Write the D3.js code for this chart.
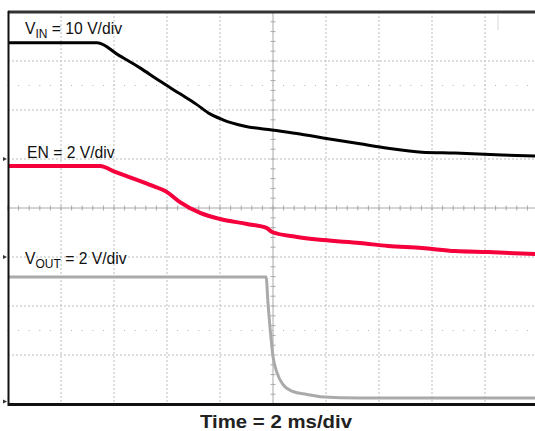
<!DOCTYPE html>
<html><head><meta charset="utf-8">
<script src="https://cdn.jsdelivr.net/npm/d3@7"></script>
<style>body{margin:0;background:#fff}svg{display:block}</style>
</head><body>
<script>
// Time axis: 2 ms/div, 10 divisions, trigger at centre (ms)
const timeTicks = [-10,-8,-6,-4,-2,0,2,4,6,8,10];
const divTicks = [-4,-3,-2,-1,0,1,2,3,4];

// VIN (10 V/div), volts
const vinTime  = [-10,-6.64,-5.8,-5.02,-4.3,-3.51,-2.9,-2.38,-1.89,-1.06,-0.04,1.02,1.89,3.28,4.34,5.62,6.87,8.64,9.9];
const vinVolts = [23.7,23.7,21.1,18.6,16.0,13.3,11.2,9.2,8.0,6.7,5.9,5.1,4.3,3.1,2.2,1.4,1.2,0.8,0.6];
// EN (2 V/div), volts
const enTime  = [-10,-6.53,-5.96,-4.64,-4.0,-3.51,-2.75,-2.0,-0.98,-0.23,-0.04,0.91,1.89,3.28,4.34,5.62,6.87,8.11,9.9];
const enVolts = [3.71,3.71,3.47,2.94,2.65,2.24,1.80,1.55,1.35,1.18,1.02,0.82,0.69,0.57,0.45,0.37,0.24,0.20,0.12];
// VOUT (2 V/div), volts
const voutTime  = [-10,-0.26,-0.19,-0.08,0,0.15,0.38,0.75,1.28,1.77,3.28,9.9];
const voutVolts = [5.08,5.08,4.04,2.65,1.84,1.18,0.69,0.41,0.29,0.20,0.14,0.14];

const channels = [
  {name:"VIN",  t:vinTime,  v:vinVolts,  vPerDiv:10, ground:1.0,   color:"#000000", width:3},
  {name:"EN",   t:enTime,   v:enVolts,   vPerDiv:2,  ground:-1.0,  color:"#f5003c", width:4},
  {name:"VOUT", t:voutTime, v:voutVolts, vPerDiv:2,  ground:-3.95, color:"#aaaaaa", width:3}
];

const W = 535, H = 431;
const svg = d3.select("body").append("svg").attr("width",W).attr("height",H)
  .style("font-family","'Liberation Sans', Arial, sans-serif");

const x = d3.scaleLinear().domain([-10,10]).range([8,538]);
const y = d3.scaleLinear().domain([-4,4]).range([404,12]);

const grid = svg.append("g");
// dashed grid
grid.selectAll(".vg").data(timeTicks.filter(t=>t!==0 && Math.abs(t)<10)).enter().append("line")
  .attr("x1",d=>x(d)).attr("x2",d=>x(d)).attr("y1",y(4)).attr("y2",y(-4))
  .attr("stroke","#bdbdbd").attr("stroke-dasharray","2,2");
grid.selectAll(".hg").data(divTicks.filter(d=>d!==0 && Math.abs(d)<4)).enter().append("line")
  .attr("x1",x(-10)).attr("x2",x(10)).attr("y1",d=>y(d)).attr("y2",d=>y(d))
  .attr("stroke","#bdbdbd").attr("stroke-dasharray","2,2");
// dotted rows at +/-2.5 div
const dotT = d3.range(-10,10.01,0.4);
[2.5,-2.5].forEach(r=>{
  grid.selectAll(null).data(dotT).enter().append("rect")
    .attr("x",d=>x(d)-0.5).attr("y",y(r)-0.5).attr("width",1).attr("height",1).attr("fill","#b0b0b0");
});
// centre cross with minor ticks
grid.append("line").attr("x1",x(-10)).attr("x2",x(10)).attr("y1",y(0)).attr("y2",y(0)).attr("stroke","#a8a8a8");
grid.append("line").attr("x1",x(0)).attr("x2",x(0)).attr("y1",y(4)).attr("y2",y(-4)).attr("stroke","#a8a8a8");
grid.selectAll(".ht").data(d3.range(-10,10.01,0.4)).enter().append("line")
  .attr("x1",d=>x(d)).attr("x2",d=>x(d)).attr("y1",y(0)-2.5).attr("y2",y(0)+2.5).attr("stroke","#a8a8a8");
grid.selectAll(".vt").data(d3.range(-4,4.01,0.2)).enter().append("line")
  .attr("x1",x(0)-2.5).attr("x2",x(0)+2.5).attr("y1",d=>y(d)).attr("y2",d=>y(d)).attr("stroke","#a8a8a8");
// trigger mark near top right
svg.append("line").attr("x1",498).attr("x2",498).attr("y1",15).attr("y2",30).attr("stroke","#d8d8d8");

// traces
const line = d3.line().curve(d3.curveMonotoneX);
channels.forEach(c=>{
  const pts = c.t.map((t,i)=>[x(t), y(c.ground + c.v[i]/c.vPerDiv)]);
  svg.append("path").attr("d",line(pts)).attr("fill","none")
    .attr("stroke",c.color).attr("stroke-width",c.width).attr("stroke-linejoin","round");
  // ground marker
  svg.append("path").attr("d",`M3,${y(c.ground)-2}L7,${y(c.ground)}L3,${y(c.ground)+2}Z`).attr("fill","#333");
});

// frame
svg.append("line").attr("x1",8).attr("x2",538).attr("y1",12).attr("y2",12).attr("stroke","#333").attr("stroke-width",3);
svg.append("line").attr("x1",8).attr("x2",538).attr("y1",404.5).attr("y2",404.5).attr("stroke","#111").attr("stroke-width",3);
svg.append("line").attr("x1",8.5).attr("x2",8.5).attr("y1",11).attr("y2",406).attr("stroke","#111").attr("stroke-width",2);

// labels
function label(xp, yp, main, sub, rest){
  const t = svg.append("text").attr("x",xp).attr("y",yp).attr("font-size",15.7).attr("fill","#111");
  t.append("tspan").text(main);
  if(sub){ t.append("tspan").attr("font-size",12).attr("dy",4).text(sub);
           t.append("tspan").attr("dy",-4).text(rest); }
  else t.append("tspan").text(rest);
}
label(25,34,"V","IN"," = 10 V/div");
label(27,158,"EN",null," = 2 V/div");
label(25,264,"V","OUT"," = 2 V/div");

svg.append("text").attr("x",276).attr("y",428).attr("text-anchor","middle")
  .attr("font-size",18).attr("font-weight","bold").attr("fill","#222")
  .attr("textLength",152).attr("lengthAdjust","spacingAndGlyphs")
  .text("Time = 2 ms/div");
</script>
</body></html>
